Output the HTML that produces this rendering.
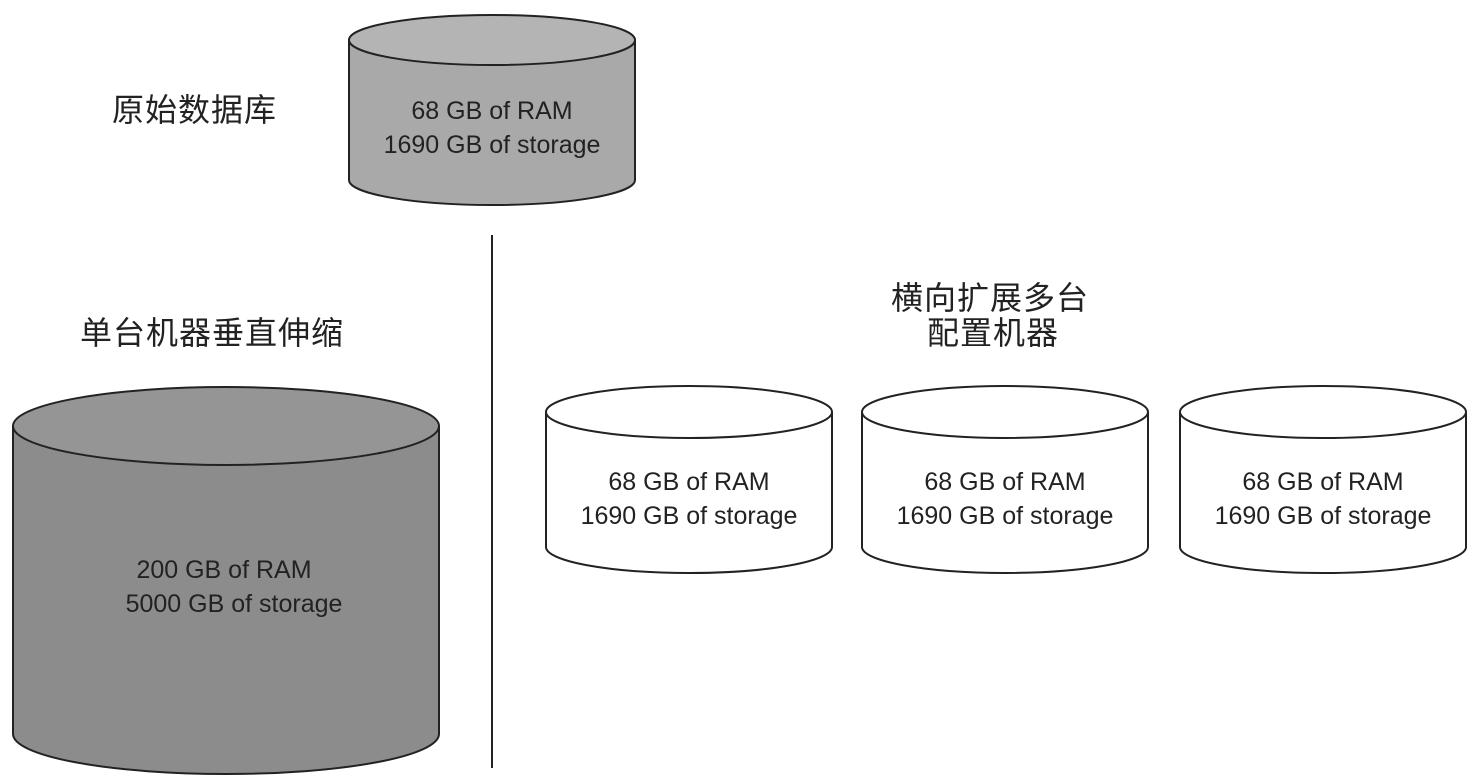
<!DOCTYPE html>
<html><head><meta charset="utf-8"><style>
body{margin:0;background:#fff;}
svg{display:block}
text{font-family:"Liberation Sans",Arial,sans-serif;font-size:25px;fill:#222;}
.cn{font-family:"Liberation Sans","Noto Sans CJK SC",sans-serif;font-size:32px;fill:#222;letter-spacing:1px;}
</style></head><body>
<svg width="1482" height="781" viewBox="0 0 1482 781" xmlns="http://www.w3.org/2000/svg">
<rect width="1482" height="781" fill="#fff"/>
<g stroke="#222" stroke-width="2">
<path d="M349,40 L349,180 A143,25 0 0 0 635,180 L635,40" fill="#a9a9a9"/>
<ellipse cx="492" cy="40" rx="143" ry="25" fill="#b4b4b4"/>
</g>
<text x="492" y="119" text-anchor="middle">68 GB of RAM</text>
<text x="492" y="153" text-anchor="middle">1690 GB of storage</text>
<text class="cn" x="112" y="121">原始数据库</text>

<line x1="492" y1="235" x2="492" y2="768" stroke="#222" stroke-width="2"/>

<g stroke="#222" stroke-width="2">
<path d="M13,426 L13,734 A213,40 0 0 0 439,734 L439,426" fill="#8c8c8c"/>
<ellipse cx="226" cy="426" rx="213" ry="39" fill="#959595"/>
</g>
<text x="224" y="578" text-anchor="middle">200 GB of RAM</text>
<text x="234" y="612" text-anchor="middle">5000 GB of storage</text>
<text class="cn" x="80" y="344">单台机器垂直伸缩</text>

<text class="cn" x="990" y="309" text-anchor="middle">横向扩展多台</text>
<text class="cn" x="993" y="344" text-anchor="middle">配置机器</text>

<g stroke="#222" stroke-width="2" fill="#fff">
<path d="M546,412 L546,547 A143,26 0 0 0 832,547 L832,412"/>
<ellipse cx="689" cy="412" rx="143" ry="26"/>
<path d="M862,412 L862,547 A143,26 0 0 0 1148,547 L1148,412"/>
<ellipse cx="1005" cy="412" rx="143" ry="26"/>
<path d="M1180,412 L1180,547 A143,26 0 0 0 1466,547 L1466,412"/>
<ellipse cx="1323" cy="412" rx="143" ry="26"/>
</g>
<text x="689" y="490" text-anchor="middle">68 GB of RAM</text>
<text x="689" y="524" text-anchor="middle">1690 GB of storage</text>
<text x="1005" y="490" text-anchor="middle">68 GB of RAM</text>
<text x="1005" y="524" text-anchor="middle">1690 GB of storage</text>
<text x="1323" y="490" text-anchor="middle">68 GB of RAM</text>
<text x="1323" y="524" text-anchor="middle">1690 GB of storage</text>
</svg>
</body></html>
